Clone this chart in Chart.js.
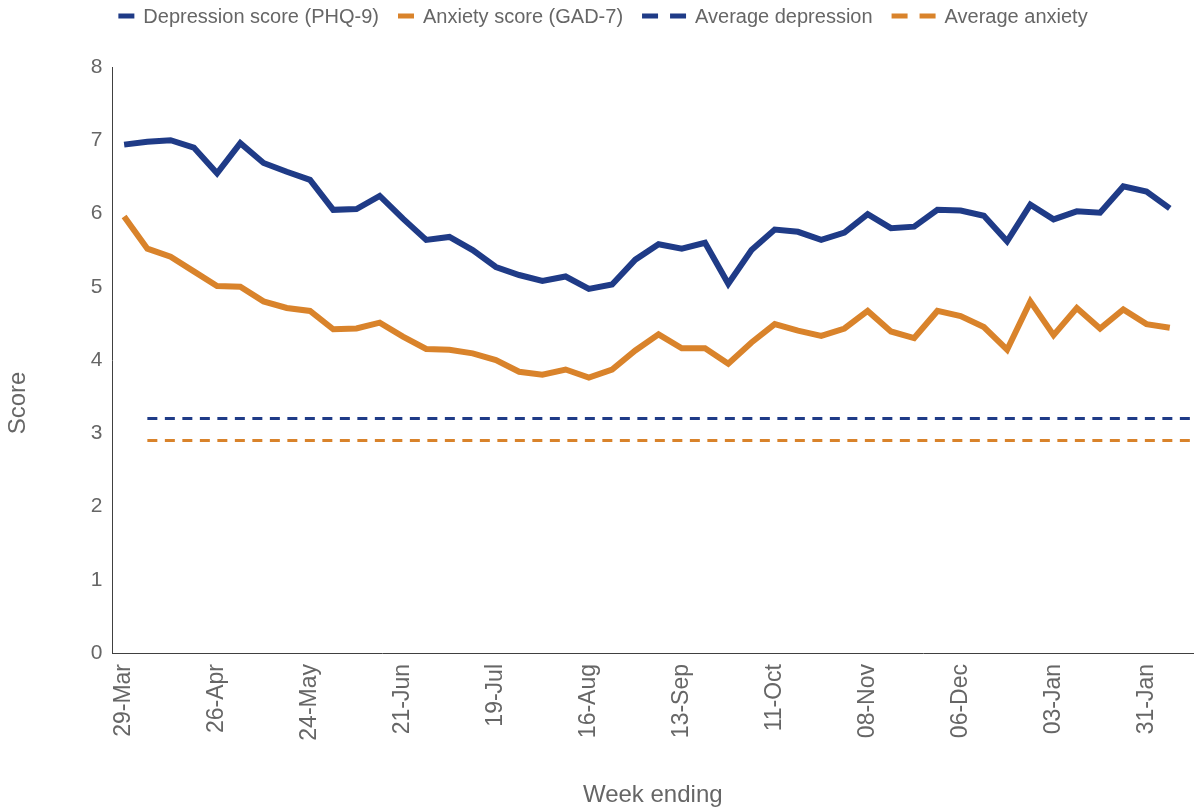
<!DOCTYPE html>
<html>
<head>
<meta charset="utf-8">
<script src="https://cdn.jsdelivr.net/npm/chart.js@4/dist/chart.umd.min.js"></script>
<style>
  html, body { margin: 0; padding: 0; background: #fff; }
</style>
</head>
<body>
<canvas id="scoreChart" width="1195" height="807"></canvas>
<script>
const weeks = ['29-Mar', '05-Apr', '12-Apr', '19-Apr', '26-Apr', '03-May', '10-May', '17-May',
  '24-May', '31-May', '07-Jun', '14-Jun', '21-Jun', '28-Jun', '05-Jul', '12-Jul', '19-Jul',
  '26-Jul', '02-Aug', '09-Aug', '16-Aug', '23-Aug', '30-Aug', '06-Sep', '13-Sep', '20-Sep',
  '27-Sep', '04-Oct', '11-Oct', '18-Oct', '25-Oct', '01-Nov', '08-Nov', '15-Nov', '22-Nov',
  '29-Nov', '06-Dec', '13-Dec', '20-Dec', '27-Dec', '03-Jan', '10-Jan', '17-Jan', '24-Jan',
  '31-Jan', '07-Feb'];

const depression = [6.94, 6.98, 7.00, 6.90, 6.55, 6.96, 6.69, 6.57, 6.46, 6.05, 6.06, 6.24,
  5.93, 5.64, 5.68, 5.50, 5.27, 5.16, 5.08, 5.14, 4.97, 5.03, 5.37, 5.58, 5.52, 5.60, 5.04,
  5.50, 5.78, 5.75, 5.64, 5.74, 5.99, 5.80, 5.82, 6.05, 6.04, 5.97, 5.62, 6.12, 5.92, 6.03,
  6.01, 6.37, 6.30, 6.07];

const anxiety = [5.96, 5.52, 5.41, 5.21, 5.01, 5.00, 4.80, 4.71, 4.67, 4.42, 4.43, 4.51,
  4.32, 4.15, 4.14, 4.09, 4.00, 3.84, 3.80, 3.87, 3.76, 3.87, 4.13, 4.35, 4.16, 4.16, 3.95,
  4.24, 4.49, 4.40, 4.33, 4.43, 4.67, 4.39, 4.30, 4.67, 4.60, 4.45, 4.14, 4.80, 4.34, 4.71,
  4.43, 4.69, 4.49, 4.44];

const avgDepression = 3.2;
const avgAnxiety = 2.9;

const blue = '#1f3b87';
const orange = '#d9832b';
const grey = '#666666';
const family = '"Liberation Sans", Arial, sans-serif';

const points = vals => vals.map((v, i) => ({ x: i, y: v }));
// average lines run from the second week to the right edge of the plot
const flat = v => [{ x: 1, y: v }, { x: weeks.length, y: v }];

// legend + y title drawn by hand so the symbols can differ in width
const extras = {
  id: 'extras',
  afterDraw(chart) {
    const ctx = chart.ctx;
    const items = chart.data.datasets.map(ds => ({
      text: ds.label, color: ds.borderColor, dashed: !!ds.borderDash
    }));
    ctx.save();
    ctx.font = '20px ' + family;
    ctx.textBaseline = 'middle';
    const symW = it => it.dashed ? 44 : 16;
    let total = 0;
    items.forEach((it, i) => {
      total += symW(it) + 9 + ctx.measureText(it.text).width + (i < items.length - 1 ? 19 : 0);
    });
    let x = 603 - total / 2;
    const y = 16;
    items.forEach(it => {
      ctx.strokeStyle = it.color;
      ctx.lineWidth = 5;
      ctx.setLineDash(it.dashed ? [16, 12] : []);
      ctx.beginPath();
      ctx.moveTo(x, y);
      ctx.lineTo(x + symW(it), y);
      ctx.stroke();
      x += symW(it) + 9;
      ctx.fillStyle = grey;
      ctx.textAlign = 'left';
      ctx.fillText(it.text, x, y + 1);
      x += ctx.measureText(it.text).width + 19;
    });

    ctx.setLineDash([]);
    ctx.font = '24px ' + family;
    ctx.translate(18, 403);
    ctx.rotate(-Math.PI / 2);
    ctx.textAlign = 'center';
    ctx.fillText('Score', 0, 0);
    ctx.restore();
  }
};

new Chart(document.getElementById('scoreChart'), {
  type: 'line',
  data: {
    datasets: [
      { label: 'Depression score (PHQ-9)', data: points(depression), borderColor: blue, borderWidth: 6 },
      { label: 'Anxiety score (GAD-7)', data: points(anxiety), borderColor: orange, borderWidth: 6 },
      { label: 'Average depression', data: flat(avgDepression), borderColor: blue, borderWidth: 3, borderDash: [10, 7.5] },
      { label: 'Average anxiety', data: flat(avgAnxiety), borderColor: orange, borderWidth: 3, borderDash: [10, 7.5] }
    ]
  },
  options: {
    responsive: false,
    animation: false,
    devicePixelRatio: 1,
    layout: { padding: { top: 67, right: 2, left: 0, bottom: 0 } },
    elements: {
      point: { radius: 0, hoverRadius: 0 },
      line: { tension: 0, fill: false, borderCapStyle: 'butt' }
    },
    plugins: {
      legend: { display: false },
      tooltip: { enabled: false }
    },
    scales: {
      x: {
        type: 'linear',
        min: -0.5,
        max: weeks.length,
        afterBuildTicks: s => {
          s.ticks = weeks.map((w, i) => i).filter(i => i % 4 === 0).map(v => ({ value: v }));
        },
        afterFit: s => { s.height = 154; },
        grid: { display: false, drawTicks: false },
        border: { color: '#404040', width: 1 },
        ticks: {
          callback: v => weeks[v],
          autoSkip: false,
          minRotation: 90,
          maxRotation: 90,
          padding: 11,
          color: grey,
          font: { family: family, size: 23 }
        },
        title: {
          display: true,
          text: 'Week ending',
          color: grey,
          padding: 0,
          font: { family: family, size: 24, lineHeight: 1 }
        }
      },
      y: {
        min: 0,
        max: 8,
        afterFit: s => { s.width = 112.5; },
        grid: { display: false, drawTicks: false },
        border: { color: '#404040', width: 1 },
        ticks: {
          stepSize: 1,
          padding: 10,
          color: grey,
          font: { family: family, size: 21 }
        }
      }
    }
  },
  plugins: [extras]
});
</script>
</body>
</html>
